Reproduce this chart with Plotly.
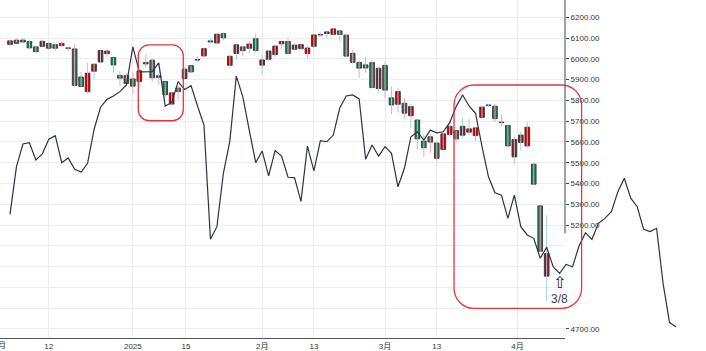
import plotly.graph_objects as go

# ---------------- data ----------------
dates = [
    "2024-12-04", "2024-12-05", "2024-12-06", "2024-12-09", "2024-12-10", "2024-12-11", "2024-12-12",
    "2024-12-13", "2024-12-16", "2024-12-17", "2024-12-18", "2024-12-19", "2024-12-20", "2024-12-23",
    "2024-12-24", "2024-12-26", "2024-12-27", "2024-12-30", "2024-12-31",
    "2025-01-02", "2025-01-03", "2025-01-06", "2025-01-07", "2025-01-08", "2025-01-10", "2025-01-13",
    "2025-01-14", "2025-01-15", "2025-01-16", "2025-01-17", "2025-01-21", "2025-01-22", "2025-01-23",
    "2025-01-24", "2025-01-27", "2025-01-28", "2025-01-29", "2025-01-30", "2025-01-31",
    "2025-02-03", "2025-02-04", "2025-02-05", "2025-02-06", "2025-02-07", "2025-02-10", "2025-02-11",
    "2025-02-12", "2025-02-13", "2025-02-14", "2025-02-18", "2025-02-19", "2025-02-20", "2025-02-21",
    "2025-02-24", "2025-02-25", "2025-02-26", "2025-02-27", "2025-02-28",
    "2025-03-03", "2025-03-04", "2025-03-05", "2025-03-06", "2025-03-07", "2025-03-10", "2025-03-11",
    "2025-03-12", "2025-03-13", "2025-03-14", "2025-03-17", "2025-03-18", "2025-03-19", "2025-03-20",
    "2025-03-21", "2025-03-24", "2025-03-25", "2025-03-26", "2025-03-27", "2025-03-28", "2025-03-31",
    "2025-04-01", "2025-04-02", "2025-04-03", "2025-04-04", "2025-04-07",
]
opens = [6069.4, 6089.8, 6081.4, 6083.0, 6057.6, 6060.2, 6074.3, 6068.2, 6063.8, 6052.6, 6047.7, 5912.7,
         5842.0, 5940.3, 5984.7, 6025.0, 6006.2, 5920.7, 5919.7,
         5903.3, 5891.1, 5982.8, 5993.3, 5910.7, 5890.7, 5782.3, 5859.2, 5905.2, 5967.3, 5994.0, 6014.1,
         6081.4, 6076.3, 6121.4, 5969.0, 6026.0, 6057.7, 6050.8, 6096.8,
         5969.7, 5998.1, 6020.5, 6072.2, 6083.1, 6046.4, 6049.3, 6025.1, 6060.6, 6115.5, 6121.6, 6117.8,
         6134.5, 6114.1, 6026.7, 5982.7, 5970.9, 5981.9, 5856.7,
         5968.3, 5812.0, 5781.4, 5785.9, 5726.0, 5705.4, 5603.7, 5624.8, 5594.5, 5563.9, 5635.6, 5654.5,
         5632.4, 5646.9, 5630.7, 5718.1, 5776.0, 5771.7, 5695.6, 5679.0, 5527.9,
         5597.5, 5580.8, 5492.7, 5292.1, 4953.8]
highs = [6089.8, 6100.0, 6099.9, 6088.5, 6065.4, 6092.6, 6079.7, 6078.6, 6085.2, 6057.7, 6070.7, 5935.5,
         5982.1, 5978.3, 6040.1, 6049.8, 6006.2, 5940.8, 5929.7,
         5935.1, 5949.3, 6021.0, 6000.7, 5927.9, 5890.7, 5838.8, 5871.9, 5960.6, 5967.3, 6015.0, 6051.5,
         6100.8, 6118.7, 6128.2, 6017.2, 6069.1, 6062.8, 6086.6, 6120.9,
         6022.1, 6042.5, 6062.9, 6084.0, 6101.3, 6073.4, 6076.3, 6063.3, 6116.9, 6127.5, 6129.6, 6147.4,
         6134.5, 6114.8, 6043.7, 5992.7, 6009.8, 5993.7, 5959.4,
         5986.1, 5865.1, 5860.6, 5812.1, 5783.0, 5705.4, 5636.3, 5642.2, 5597.8, 5645.3, 5703.5, 5654.5,
         5715.3, 5711.2, 5670.8, 5775.1, 5783.0, 5784.6, 5732.3, 5685.9, 5627.6,
         5650.6, 5695.3, 5499.5, 5292.1, 5246.6]
lows = [6061.1, 6080.0, 6079.9, 6048.6, 6029.9, 6060.2, 6051.3, 6035.8, 6059.1, 6035.2, 5867.8, 5866.1,
        5832.3, 5902.6, 5981.4, 6007.4, 5933.0, 5869.2, 5868.9,
        5829.5, 5888.7, 5960.0, 5890.7, 5874.8, 5809.5, 5773.3, 5805.5, 5905.2, 5932.1, 5990.0, 6006.9,
        6076.1, 6074.7, 6088.7, 5962.9, 5995.2, 6013.0, 6027.5, 6030.9,
        5923.9, 5990.9, 6007.1, 6046.8, 6020.0, 6044.8, 6042.3, 6003.0, 6051.0, 6107.6, 6099.5, 6111.1,
        6084.6, 6008.6, 5977.8, 5908.5, 5932.7, 5858.8, 5837.7,
        5810.9, 5732.6, 5742.4, 5711.6, 5666.3, 5564.0, 5528.4, 5546.1, 5504.7, 5563.9, 5631.1, 5597.8,
        5622.2, 5632.3, 5603.1, 5718.1, 5768.1, 5695.8, 5670.9, 5572.4, 5488.7,
        5558.5, 5571.5, 5390.8, 5069.9, 4835.0]
closes = [6086.5, 6075.1, 6090.3, 6052.9, 6034.9, 6084.2, 6051.3, 6051.1, 6074.1, 6050.6, 5872.2, 5867.1,
          5930.9, 5974.1, 6040.0, 6037.6, 5970.8, 5906.9, 5881.6,
          5868.6, 5942.5, 5975.4, 5909.0, 5918.3, 5827.0, 5836.2, 5842.9, 5949.9, 5937.3, 5996.7, 6049.2,
          6086.4, 6118.7, 6101.2, 6012.3, 6067.7, 6039.3, 6071.2, 6040.5,
          5994.6, 6037.9, 6061.5, 6083.6, 6026.0, 6066.4, 6068.5, 6052.0, 6115.1, 6114.6, 6129.6, 6144.2,
          6117.5, 6013.1, 5983.3, 5955.3, 5956.1, 5861.6, 5954.5,
          5849.7, 5778.2, 5842.6, 5738.5, 5770.2, 5614.6, 5572.1, 5599.3, 5521.5, 5638.9, 5675.1, 5614.7,
          5675.3, 5662.9, 5667.6, 5767.6, 5776.7, 5712.2, 5693.3, 5580.9, 5611.9,
          5633.1, 5671.0, 5396.5, 5074.1, 5062.3]

# overlaid indicator line (read in the right-axis units), one point per trading day
line_vals = [5251, 5481, 5590, 5596, 5513, 5542, 5613, 5630, 5500, 5523, 5468, 5455, 5497, 5660,
             5767, 5805, 5821, 5842, 5874, 6058, 5937, 5937, 5938, 5981, 5773, 5789, 5890, 5852,
             5871, 5773, 5681, 5131, 5192, 5449, 5604, 5917, 5818, 5657, 5500, 5556, 5437, 5558,
             5532, 5430, 5428, 5314, 5580, 5461, 5606, 5601, 5633, 5763, 5821, 5826, 5807, 5516,
             5585, 5532, 5577, 5545, 5384, 5473, 5625, 5649, 5609, 5657, 5644, 5649, 5693, 5770,
             5826, 5773, 5738, 5577, 5432, 5355, 5344, 5232, 5344, 5192, 5152, 5136, 5040, 5093,
             4999, 4967, 5010, 4999, 5099, 5163, 5131, 5208, 5232, 5264, 5359, 5425, 5329, 5288,
             5179, 5168, 5184, 4919, 4730, 4710]

tick_pos = [6, 19, 27.2, 39, 47, 58, 66, 78.5]
tick_text = ["12", "2025", "15", "2月", "13", "3月", "13", "4月"]
first_label_pos = -2
first_label = "12月"
y_major = [4700, 5200, 5300, 5400, 5500, 5600, 5700, 5800, 5900, 6000, 6100, 6200]
y_minor = [4800, 4900, 5000, 5100]

# highlighted regions (x in trading-day index, y in price)
boxes = [(19.84, 26.8, 5702, 6067), (68.67, 88.4, 4799, 5874)]
marker_idx = 85
marker_text = "3/8"

# ---------------- geometry / style ----------------
W, H = 706, 351
MB = 13
PH = H - MB
PX0, DX = 10.0, 6.466
AX_PX = 565
x_range = [(0 - PX0) / DX, (AX_PX - PX0) / DX]
x2_range = [(0 - PX0) / DX, (W - PX0) / DX]
y_range = [4656.0, 6283.3]

UP_FILL, DN_FILL = "#c7000b", "#1b7a55"
UP_WICK, DN_WICK = "#9fd2e2", "#f4a6b6"
OUTLINE = "#333333"
GRID = "#ececec"
FONT = "Liberation Sans, Arial, Noto Sans CJK SC, sans-serif"

idx = list(range(len(dates)))
up = [c >= o for o, c in zip(opens, closes)]

fig = go.Figure()

# wicks
for is_up, col in [(True, UP_WICK), (False, DN_WICK)]:
    wx, wy = [], []
    for i in idx:
        if up[i] == is_up:
            wx += [i, i, None]
            wy += [lows[i], highs[i], None]
    fig.add_trace(go.Scatter(x=wx, y=wy, mode="lines", line=dict(color=col, width=1),
                             xaxis="x", yaxis="y", hoverinfo="skip"))

# bodies
bases = [min(o, c) for o, c in zip(opens, closes)]
heights = [max(abs(c - o), 2.0) for o, c in zip(opens, closes)]
fig.add_trace(go.Bar(x=idx, y=heights, base=bases, width=0.72,
                     marker=dict(color=[UP_FILL if u else DN_FILL for u in up],
                                 line=dict(color=OUTLINE, width=0.9)),
                     xaxis="x", yaxis="y", hoverinfo="skip"))

# indicator line
fig.add_trace(go.Scatter(x=list(range(len(line_vals))), y=line_vals, mode="lines",
                         line=dict(color="#2c3345", width=1.2), xaxis="x2", yaxis="y2",
                         hoverinfo="skip"))


def px_x(v):
    return (v - x2_range[0]) / (x2_range[1] - x2_range[0])


def px_y(v):
    return (v - y_range[0]) / (y_range[1] - y_range[0])


shapes = []
k = 0.552
for (xa, xb, ya, yb) in boxes:
    x0, x1 = px_x(xa), px_x(xb)
    yb_, yt = px_y(ya), px_y(yb)
    r = 20 if (xb - xa) > 10 else 11
    rx, ry = r / W, r / PH
    p = (f"M {x0+rx},{yt} L {x1-rx},{yt} "
         f"C {x1-rx+k*rx},{yt} {x1},{yt-ry+k*ry} {x1},{yt-ry} "
         f"L {x1},{yb_+ry} "
         f"C {x1},{yb_+ry-k*ry} {x1-rx+k*rx},{yb_} {x1-rx},{yb_} "
         f"L {x0+rx},{yb_} "
         f"C {x0+rx-k*rx},{yb_} {x0},{yb_+ry-k*ry} {x0},{yb_+ry} "
         f"L {x0},{yt-ry} "
         f"C {x0},{yt-ry+k*ry} {x0+rx-k*rx},{yt} {x0+rx},{yt} Z")
    shapes.append(dict(type="path", path=p, xref="paper", yref="paper",
                       line=dict(color="#e8343a", width=1.3), fillcolor="rgba(0,0,0,0)"))

# right price-axis line (upper part)
shapes.append(dict(type="line", xref="paper", yref="y", x0=AX_PX / W, x1=AX_PX / W,
                   y0=5160, y1=y_range[1], line=dict(color="#444444", width=1)))

annotations = [
    dict(x=px_x(first_label_pos), y=-8 / PH, xref="paper", yref="paper", text=first_label,
         showarrow=False, font=dict(size=8, color="#333333", family=FONT), xanchor="center",
         yanchor="middle"),
    dict(x=marker_idx, y=line_vals[marker_idx] - 42, xref="x2", yref="y2", text="⇧",
         showarrow=False, yanchor="middle", font=dict(size=16, color="#222222", family="DejaVu Sans")),
    dict(x=marker_idx, y=line_vals[marker_idx] - 124, xref="x2", yref="y2", text=marker_text,
         showarrow=False, yanchor="middle", font=dict(size=12, color="#444444", family=FONT)),
]

fig.update_layout(
    width=W, height=H,
    margin=dict(l=0, r=0, t=0, b=MB, pad=0),
    paper_bgcolor="white", plot_bgcolor="rgba(0,0,0,0)",
    showlegend=False, hovermode=False, barmode="overlay",
    font=dict(family=FONT, size=8, color="#333333"),
    xaxis=dict(domain=[0, AX_PX / W], range=x_range, anchor="y",
               tickmode="array", tickvals=tick_pos, ticktext=tick_text,
               showgrid=True, gridcolor=GRID, gridwidth=1, zeroline=False,
               showline=True, linecolor="#555555", linewidth=1, ticks="",
               tickfont=dict(size=8, color="#333333")),
    yaxis=dict(range=y_range, side="right", anchor="x",
               tickmode="array", tickvals=y_major, tickformat=".2f",
               ticks="outside", ticklen=3, tickcolor="#444444",
               showgrid=True, gridcolor=GRID, gridwidth=1, zeroline=False, showline=False,
               minor=dict(tickmode="array", tickvals=y_minor, showgrid=True, gridcolor=GRID,
                          ticks=""),
               tickfont=dict(size=8, color="#333333")),
    xaxis2=dict(domain=[0, 1], range=x2_range, anchor="y2", visible=False),
    yaxis2=dict(domain=[0, 1], range=y_range, anchor="x2", visible=False),
    shapes=shapes,
    annotations=annotations,
)

fig.write_html("out.html")
